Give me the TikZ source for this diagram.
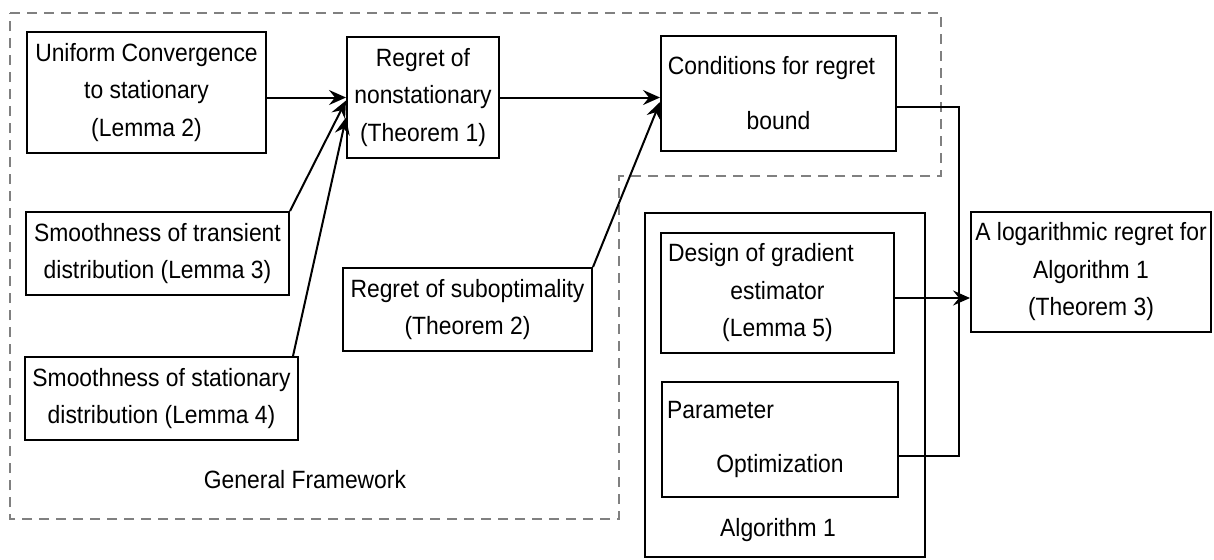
\documentclass[tikz,border=0pt]{standalone}
\usepackage{fontspec}
\setmainfont{Liberation Sans}[FakeStretch=0.915]
\usetikzlibrary{arrows.meta}
\begin{document}
\begin{tikzpicture}[x=0.5pt,y=-0.5pt,
  box/.style={draw, line width=1pt, inner sep=1pt, align=center, font=\fontsize{12.5}{18.75}\selectfont},
  lbl/.style={inner sep=1pt, font=\fontsize{12.5}{18.75}\selectfont},
  conn/.style={line width=1pt, -{Stealth[length=8.5pt,width=7.5pt,inset=3pt]}},
  plain/.style={line width=1pt},
  frame/.style={draw=black!50, dash pattern=on 5pt off 3.5pt, line width=0.8pt}]
\useasboundingbox (0,0) rectangle (1214,559);
% General framework dashed frame
\draw[frame] (10,13) -- (941,13) -- (941,176) -- (619,176) -- (619,519) -- (10,519) -- cycle;
% boxes
\node[box, minimum width=119.5pt, minimum height=60.5pt] (uni) at (146.5,92.5) {Uniform Convergence\\to stationary\\(Lemma 2)};
\node[box, minimum width=76pt, minimum height=60.5pt] (rns) at (423,97.5) {Regret of\\nonstationary\\(Theorem 1)};
\node[box, minimum width=117.5pt, minimum height=57.5pt] (cond) at (778.5,93.5) {Conditions for regret\hspace*{7pt}\\[8.75pt]bound};
\node[box, minimum width=131.5pt, minimum height=41.5pt] (smt) at (157.5,253.5) {Smoothness of transient\\distribution (Lemma 3)};
\node[box, minimum width=124.5pt, minimum height=41.5pt] (rso) at (467.5,309.5) {Regret of suboptimality\\(Theorem 2)};
\node[box, minimum width=136.5pt, minimum height=41.5pt] (sms) at (161.5,398.5) {Smoothness of stationary\\distribution (Lemma 4)};
\node[box, minimum width=140pt, minimum height=172pt] (alg) at (785,385) {};
\node[box, minimum width=116.5pt, minimum height=60pt] (des) at (777.5,293) {Design of gradient\hspace*{16.5pt}\\estimator\\(Lemma 5)};
\node[box, minimum width=118pt, minimum height=57.5pt] (par) at (780,439.5) {Parameter\hspace*{59.5pt}\\[8.25pt]Optimization};
\node[box, minimum width=120pt, minimum height=60pt] (log) at (1091,272) {A logarithmic regret for\\Algorithm 1\\(Theorem 3)};
% labels
\node[lbl] (gf) at (305,480) {General Framework};
\node[lbl] (al) at (778,530) {Algorithm 1};
% connectors
\draw[conn] (uni.east |- rns.west) -- (rns.west);
\draw[conn] (smt.north east) -- ([yshift=-1.5pt]rns.west);
\draw[conn] ([xshift=-3pt]sms.north east) -- ([yshift=-10pt]rns.west);
\draw[conn] (rns.east) -- (rns.east -| cond.west);
\draw[conn] (rso.north east) -- ([yshift=-4.25pt]cond.west);
\coordinate (bt) at (959,107);
\coordinate (bb) at (959,456);
\draw[plain] (cond.east |- bt) -- (bt) -- (bb) -- (par.east |- bb);
\draw[conn] ([yshift=-2.5pt]des.east) -- ([yshift=-2.5pt]des.east -| log.west);
\end{tikzpicture}
\end{document}
